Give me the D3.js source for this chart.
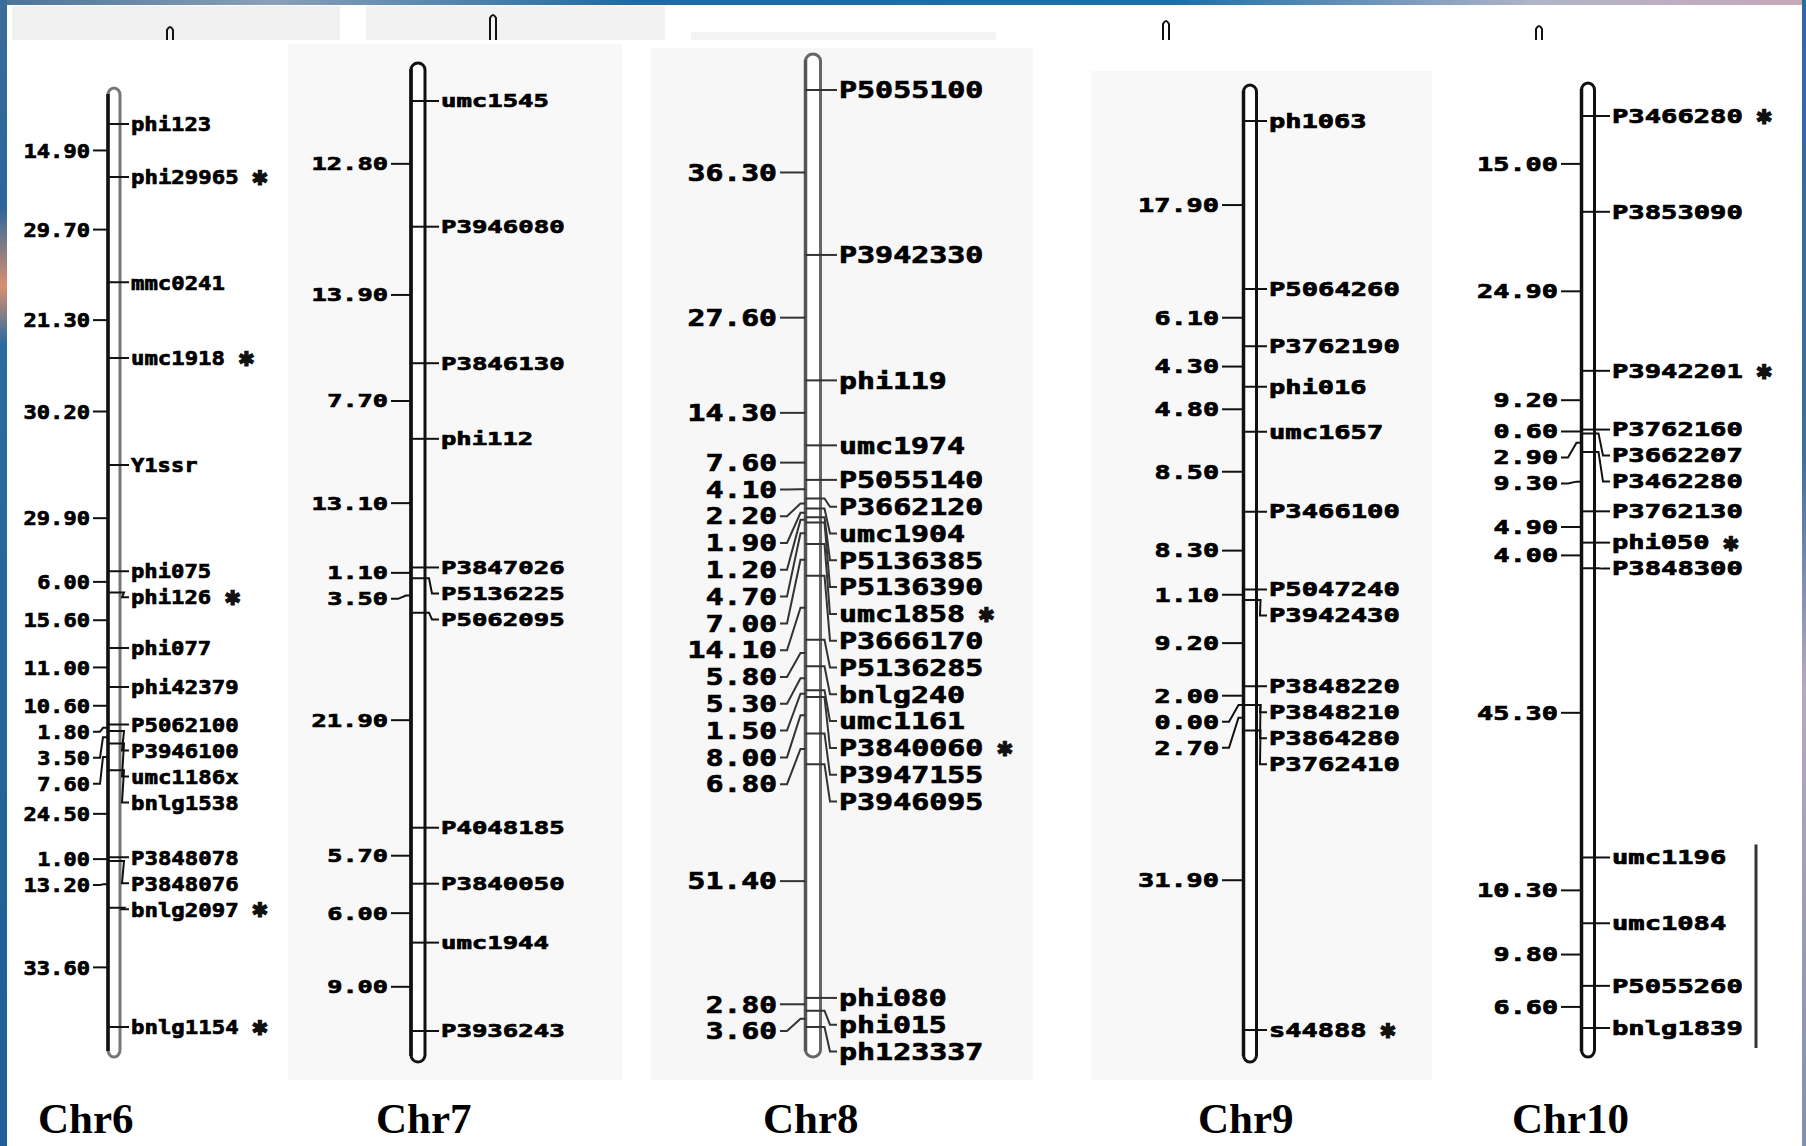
<!DOCTYPE html>
<html>
<head>
<meta charset="utf-8">
<script src="https://cdn.jsdelivr.net/npm/d3@7"></script>
<style>
  body { margin: 0; background: #fff; }
  svg { display: block; }
</style>
</head>
<body>
<div id="chartContainer"></div>
<script>
// ---- data: marker order, interval lengths (cM), starred markers ----
const chrNames = ["Chr6", "Chr7", "Chr8", "Chr9", "Chr10"];

const chr6Markers = ["phi123", "phi29965", "mmc0241", "umc1918", "Y1ssr", "phi075", "phi126", "phi077", "phi42379",
  "P5062100", "P3946100", "umc1186x", "bnlg1538", "P3848078", "P3848076", "bnlg2097", "bnlg1154"];
const chr6Intervals = [14.90, 29.70, 21.30, 30.20, 29.90, 6.00, 15.60, 11.00, 10.60, 1.80, 3.50, 7.60, 24.50, 1.00, 13.20, 33.60];
const chr6Starred = ["phi29965", "umc1918", "phi126", "bnlg2097", "bnlg1154"];

const chr7Markers = ["umc1545", "P3946080", "P3846130", "phi112", "P3847026", "P5136225", "P5062095", "P4048185",
  "P3840050", "umc1944", "P3936243"];
const chr7Intervals = [12.80, 13.90, 7.70, 13.10, 1.10, 3.50, 21.90, 5.70, 6.00, 9.00];
const chr7Starred = [];

const chr8Markers = ["P5055100", "P3942330", "phi119", "umc1974", "P5055140", "P3662120", "umc1904", "P5136385",
  "P5136390", "umc1858", "P3666170", "P5136285", "bnlg240", "umc1161", "P3840060", "P3947155", "P3946095",
  "phi080", "phi015", "ph123337"];
const chr8Intervals = [36.30, 27.60, 14.30, 7.60, 4.10, 2.20, 1.90, 1.20, 4.70, 7.00, 14.10, 5.80, 5.30, 1.50, 8.00, 6.80, 51.40, 2.80, 3.60];
const chr8Starred = ["umc1858", "P3840060"];

const chr9Markers = ["ph1063", "P5064260", "P3762190", "phi016", "umc1657", "P3466100", "P5047240", "P3942430",
  "P3848220", "P3848210", "P3864280", "P3762410", "s44888"];
const chr9Intervals = [17.90, 6.10, 4.30, 4.80, 8.50, 8.30, 1.10, 9.20, 2.00, 0.00, 2.70, 31.90];
const chr9Starred = ["s44888"];

const chr10Markers = ["P3466280", "P3853090", "P3942201", "P3762160", "P3662207", "P3462280", "P3762130", "phi050",
  "P3848300", "umc1196", "umc1084", "P5055260", "bnlg1839"];
const chr10Intervals = [15.00, 24.90, 9.20, 0.60, 2.90, 9.30, 4.90, 4.00, 45.30, 10.30, 9.80, 6.60];
const chr10Starred = ["P3466280", "P3942201", "phi050"];
const chr10Bracket = ["umc1196", "bnlg1839"];

// ---- layout (pixels) ----
const W = 1806, H = 1146;
const layouts = [
  { markers: chr6Markers, intervals: chr6Intervals, starred: chr6Starred,
    barX: 114, barW: 12, barTop: 88, barBot: 1057, y0: 124, y1: 1027, labelX: 131, intRight: 90,
    gap: 26, fs: 20, charW: 13.7, left: "#111", right: "#777", line: "#111", titleX: 38 },
  { markers: chr7Markers, intervals: chr7Intervals, starred: chr7Starred,
    barX: 418, barW: 14, barTop: 63, barBot: 1062, y0: 101, y1: 1031, labelX: 441, intRight: 388,
    gap: 26, fs: 18, charW: 15.7, left: "#111", right: "#111", line: "#111", titleX: 376 },
  { markers: chr8Markers, intervals: chr8Intervals, starred: chr8Starred,
    barX: 813, barW: 15, barTop: 54, barBot: 1057, y0: 90, y1: 1027, labelX: 839, intRight: 777,
    gap: 26.8, fs: 23, charW: 18.3, left: "#555", right: "#666", line: "#333", titleX: 763 },
  { markers: chr9Markers, intervals: chr9Intervals, starred: chr9Starred,
    barX: 1250, barW: 13, barTop: 85, barBot: 1062, y0: 121, y1: 1030, labelX: 1269, intRight: 1219,
    gap: 26, fs: 19, charW: 16.6, left: "#111", right: "#111", line: "#111", titleX: 1198 },
  { markers: chr10Markers, intervals: chr10Intervals, starred: chr10Starred, bracket: chr10Bracket,
    barX: 1588, barW: 13, barTop: 83, barBot: 1057, y0: 116, y1: 1028, labelX: 1612, intRight: 1558,
    gap: 26, fs: 19, charW: 16.6, left: "#111", right: "#111", line: "#111", titleX: 1512 }
];

const svg = d3.select("#chartContainer").append("svg")
  .attr("width", W)
  .attr("height", H);

// frame gradients
const defs = svg.append("defs");
const topGrad = defs.append("linearGradient").attr("id", "topGrad");
[["0%", "#4a7398"], ["15%", "#8aa0b8"], ["35%", "#1f6aa2"], ["65%", "#1c6fa8"], ["85%", "#b0b4c8"], ["100%", "#c8a8b8"]]
  .forEach(s => topGrad.append("stop").attr("offset", s[0]).attr("stop-color", s[1]));
const leftGrad = defs.append("linearGradient").attr("id", "leftGrad").attr("x1", 0).attr("x2", 0).attr("y1", 0).attr("y2", 1);
[["0%", "#3a6d98"], ["18%", "#2a659c"], ["25%", "#d89070"], ["30%", "#2a6aa0"], ["100%", "#1d5f96"]]
  .forEach(s => leftGrad.append("stop").attr("offset", s[0]).attr("stop-color", s[1]));
const rightGrad = defs.append("linearGradient").attr("id", "rightGrad").attr("x1", 0).attr("x2", 0).attr("y1", 0).attr("y2", 1);
[["0%", "#2c6aa0"], ["40%", "#3a70a4"], ["60%", "#b8a8c0"], ["100%", "#8090b0"]]
  .forEach(s => rightGrad.append("stop").attr("offset", s[0]).attr("stop-color", s[1]));

// background panels behind the pasted chromosomes
const panels = [[12, 6, 328, 34, "#f0f0f0"], [366, 6, 299, 34, "#f2f2f2"], [691, 32, 305, 8, "#f4f4f4"],
  [288, 44, 334, 1036, "#f8f8f8"], [651, 48, 382, 1032, "#f7f7f7"], [1091, 71, 341, 1009, "#f8f8f8"]];
svg.selectAll(".panel").data(panels).enter().append("rect")
  .attr("class", "panel")
  .attr("x", d => d[0]).attr("y", d => d[1]).attr("width", d => d[2]).attr("height", d => d[3])
  .style("fill", d => d[4]);

// cut-off tops of bars from the figure above
const stubs = [[170, 26], [493, 14], [1166, 20], [1539, 25]];
svg.selectAll(".stub").data(stubs).enter().append("path")
  .attr("class", "stub")
  .attr("d", d => `M${d[0] - 3},40 L${d[0] - 3},${d[1] + 4} Q${d[0]},${d[1] - 2} ${d[0] + 3},${d[1] + 4} L${d[0] + 3},40`)
  .style("fill", "none").style("stroke", "#111").style("stroke-width", 2);

const fmt = d3.format(".2f");

// push labels down so they never overlap
function spread(ys, gap) {
  const out = [];
  ys.forEach((y, i) => out.push(i === 0 ? y : Math.max(y, out[i - 1] + gap)));
  return out;
}

layouts.forEach((c, ci) => {
  const cum = [0];
  c.intervals.forEach(v => cum.push(cum[cum.length - 1] + v));
  const yScale = d3.scaleLinear().domain([0, d3.sum(c.intervals)]).range([c.y0, c.y1]);

  const markerY = cum.map(d => yScale(d));
  const markerLabY = spread(markerY, c.gap);
  const markers = c.markers.map((name, i) => ({ name, y: markerY[i], ly: markerLabY[i], star: c.starred.includes(name) }));

  const midY = c.intervals.map((v, i) => yScale((cum[i] + cum[i + 1]) / 2));
  const midLabY = spread(midY, c.gap);
  const ints = c.intervals.map((v, i) => ({ v, y: midY[i], ly: midLabY[i] }));

  const g = svg.append("g").attr("class", "chr");
  const bl = c.barX - c.barW / 2, br = c.barX + c.barW / 2;

  // chromosome bar
  g.append("rect")
    .attr("x", bl).attr("y", c.barTop)
    .attr("width", c.barW).attr("height", c.barBot - c.barTop)
    .attr("rx", c.barW / 2).attr("ry", 7)
    .style("fill", "#fff").style("stroke", c.right).style("stroke-width", 3);
  g.append("line")
    .attr("x1", bl).attr("x2", bl).attr("y1", c.barTop + 6).attr("y2", c.barBot - 6)
    .style("stroke", c.left).style("stroke-width", 3.5);

  // marker ticks with elbows
  g.selectAll(".mk").data(markers).enter().append("polyline")
    .attr("class", "mk")
    .attr("points", d => [[bl, d.y], [br + 4, d.y], [c.labelX - 9, d.ly], [c.labelX - 2, d.ly]].join(" "))
    .style("fill", "none").style("stroke", c.line).style("stroke-width", 2);

  g.selectAll(".mkLabel").data(markers).enter().append("text")
    .attr("class", "mkLabel")
    .attr("x", c.labelX).attr("y", d => d.ly).attr("dy", "0.36em")
    .attr("textLength", d => d.name.length * c.charW - 2)
    .attr("lengthAdjust", "spacingAndGlyphs")
    .style("font-family", "'DejaVu Sans Mono', monospace").style("font-weight", "bold")
    .style("font-size", c.fs + "px")
    .style("fill", "#000").style("stroke", "#000").style("stroke-width", 0.7)
    .text(d => d.name);

  g.selectAll(".star").data(markers.filter(d => d.star)).enter().append("text")
    .attr("class", "star")
    .attr("x", d => c.labelX + d.name.length * c.charW + 11).attr("y", d => d.ly).attr("dy", "0.4em")
    .style("font-family", "'DejaVu Sans', sans-serif").style("font-weight", "bold")
    .style("font-size", "20px").style("fill", "#111").style("stroke", "#111").style("stroke-width", 1.2)
    .text("✱");

  // interval ticks on the left
  g.selectAll(".iv").data(ints).enter().append("polyline")
    .attr("class", "iv")
    .attr("points", d => [[bl, d.y], [bl - 5, d.y], [c.intRight + 10, d.ly], [c.intRight + 3, d.ly]].join(" "))
    .style("fill", "none").style("stroke", c.line).style("stroke-width", 2);

  g.selectAll(".ivLabel").data(ints).enter().append("text")
    .attr("class", "ivLabel")
    .attr("x", c.intRight).attr("y", d => d.ly).attr("dy", "0.36em")
    .attr("text-anchor", "end")
    .attr("textLength", d => fmt(d.v).length * c.charW - 2)
    .attr("lengthAdjust", "spacingAndGlyphs")
    .style("font-family", "'DejaVu Sans Mono', monospace").style("font-weight", "bold")
    .style("font-size", c.fs + "px")
    .style("fill", "#000").style("stroke", "#000").style("stroke-width", 0.7)
    .text(d => fmt(d.v));

  if (c.bracket) {
    const b0 = markers.find(d => d.name === c.bracket[0]);
    const b1 = markers.find(d => d.name === c.bracket[1]);
    g.append("line")
      .attr("x1", 1756).attr("x2", 1756)
      .attr("y1", b0.ly - 13).attr("y2", b1.ly + 20)
      .style("stroke", "#333").style("stroke-width", 3);
  }

  g.append("text")
    .attr("x", c.titleX).attr("y", 1133)
    .style("font-family", "'Liberation Serif', serif").style("font-weight", "bold")
    .style("font-size", "43px").style("fill", "#000")
    .text(chrNames[ci]);
});

// blue frame
svg.append("rect").attr("x", 0).attr("y", 0).attr("width", W).attr("height", 5).style("fill", "url(#topGrad)");
svg.append("rect").attr("x", 0).attr("y", 0).attr("width", 7).attr("height", H).style("fill", "url(#leftGrad)");
svg.append("rect").attr("x", W - 4).attr("y", 0).attr("width", 4).attr("height", H).style("fill", "url(#rightGrad)");
</script>
</body>
</html>
